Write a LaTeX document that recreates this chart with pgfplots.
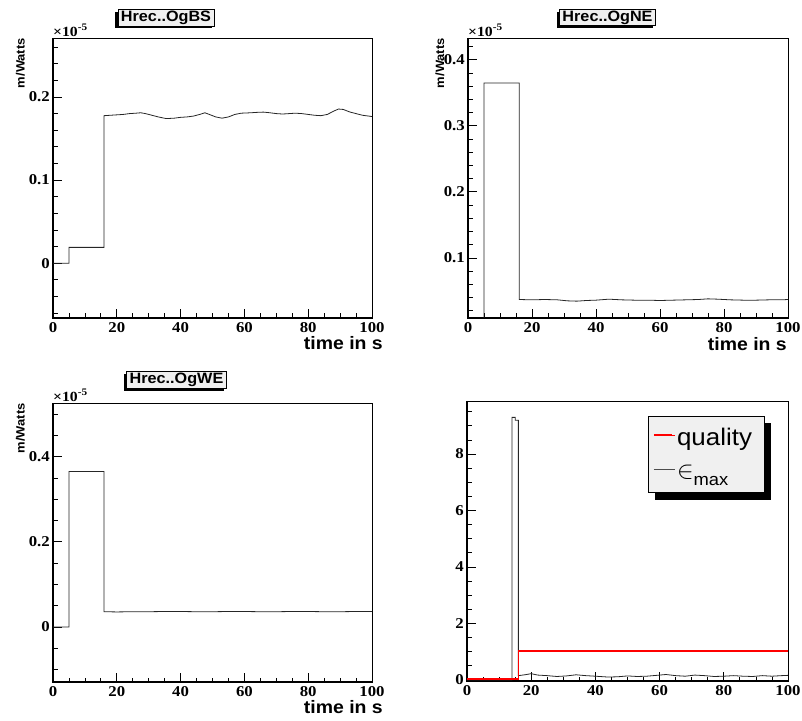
\documentclass[border=0pt]{standalone}
\usepackage{fontspec}
\setmainfont{Liberation Serif}[FakeStretch=1.12]
\setsansfont{Liberation Sans}[FakeStretch=1.08]
\usepackage{pgfplots}
\pgfplotsset{compat=1.18}
\pgfdeclarelayer{background}
\pgfsetlayers{background,main}

\definecolor{paneg}{RGB}{240,240,240}
\definecolor{rootred}{RGB}{255,0,0}
\newcommand\titlefont{\sffamily\bfseries\fontsize{15}{15}\selectfont}
\newcommand\tickfont{\rmfamily\bfseries\fontsize{15}{15}\selectfont}
\newcommand\labfont{\sffamily\bfseries\fontsize{18}{18}\selectfont}
\newcommand\ylabfont{\sffamily\bfseries\fontsize{12}{12}\selectfont}
\newcommand\expfont{\rmfamily\bfseries\fontsize{14}{14}\selectfont}
\newcommand\expo{×10\raisebox{5.5pt}{\fontsize{10}{10}\selectfont -5}}

\newcommand{\tbox}[3]{%
  \node[fill=black, inner xsep=3pt, inner ysep=1.2pt, text height=10.8pt, text depth=3.2pt, font=\titlefont] at (#1pt-2.5pt,#2pt-2.5pt) {#3};
  \node[fill=paneg, draw=black, line width=0.6pt, inner xsep=3pt, inner ysep=1.2pt, text height=10.8pt, text depth=3.2pt, font=\titlefont] at (#1pt,#2pt) {#3};
}

\pgfplotsset{
  rootaxis/.style={
    scale only axis,
    clip mode=individual,
    xmin=0, xmax=100,
    axis line style={line width=0.9pt},
    tick align=inside,
    xtick pos=left, ytick pos=left,
    major tick length=9pt, minor tick length=4.5pt,
    every tick/.style={line width=0.8pt, black},
    xtick={0,20,40,60,80,100}, xticklabels={0,20,40,60,80,100},
    minor xtick={5,10,15,25,30,35,45,50,55,65,70,75,85,90,95},
    xticklabel style={font=\tickfont, inner sep=0pt, yshift=-4pt},
    yticklabel style={font=\tickfont, inner sep=0pt, xshift=-3pt},
  },
  hist/.style={black!85, line width=0.8pt, mark=none},
}

\begin{document}
\begin{tikzpicture}[x=1pt,y=1pt]
\path[use as bounding box] (0,0) rectangle (802,720);

% ---------------- Panel 1 : Hrec..OgBS ----------------
\begin{axis}[rootaxis,
  at={(53pt,402pt)}, anchor=south west, width=319pt, height=280pt,
  ymin=-0.066, ymax=0.271,
  ytick={0,0.1,0.2}, yticklabels={0,0.1,0.2},
  minor ytick={-0.06,-0.04,-0.02,0.02,0.04,0.06,0.08,0.12,0.14,0.16,0.18,0.22,0.24,0.26},
]
\draw[line width=1.4pt, black] (rel axis cs:0,1) -- (rel axis cs:0,0) -- (rel axis cs:1,0);
\addplot[hist] coordinates {
(0,0) (5,0) (5,0.019) (16,0.019) (16,0.1775)
(18,0.178) (20,0.1785) (22,0.179) (24,0.180) (26,0.1805) (27.5,0.181) (29,0.180)
(31,0.178) (33,0.176) (35.5,0.174) (38,0.1745) (40,0.1755) (42,0.176) (44,0.177)
(46,0.179) (47.6,0.181) (49,0.179) (51,0.176) (53,0.1745) (55,0.176) (57,0.179)
(59,0.1805) (62,0.181) (64,0.1815) (66,0.1818) (68,0.181) (70,0.180) (72,0.1795)
(74,0.180) (76,0.1805) (78,0.180) (80,0.179) (82,0.178) (84,0.1775) (86,0.179)
(88,0.183) (89.5,0.1855) (91,0.185) (93,0.182) (95,0.180) (97,0.178) (100,0.1765)
};
\node[anchor=south west, inner sep=0pt, font=\expfont] at ([yshift=1.5pt]rel axis cs:0,1) {\expo};
\node[rotate=90, anchor=south east, inner sep=0pt, font=\ylabfont] at ([xshift=-28pt]rel axis cs:0,1) {m/Watts};
\node[anchor=north east, inner sep=0pt, font=\labfont] at ([xshift=11pt,yshift=-18pt]rel axis cs:1,0) {time in s};
\end{axis}

% ---------------- Panel 2 : Hrec..OgNE ----------------
\begin{axis}[rootaxis,
  at={(468pt,402pt)}, anchor=south west, width=320pt, height=280pt,
  ymin=0.009, ymax=0.433,
  ytick={0.1,0.2,0.3,0.4}, yticklabels={0.1,0.2,0.3,0.4},
  minor ytick={0.02,0.04,0.06,0.08,0.12,0.14,0.16,0.18,0.22,0.24,0.26,0.28,0.32,0.34,0.36,0.38,0.42},
]
\draw[line width=1.4pt, black] (rel axis cs:0,1) -- (rel axis cs:0,0) -- (rel axis cs:1,0);
\addplot[hist] coordinates {
(0,0) (5,0) (5,0.365) (16,0.365) (16,0.037)
(20,0.0365) (24,0.037) (28,0.0365) (31,0.035) (34,0.0345) (37,0.0355) (40,0.036)
(44,0.0375) (48,0.0365) (52,0.036) (56,0.036) (60,0.0355) (64,0.036) (68,0.0365)
(72,0.037) (75,0.038) (78,0.0375) (82,0.0365) (86,0.036) (90,0.036) (94,0.0365)
(98,0.0365) (100,0.037)
};
\node[anchor=south west, inner sep=0pt, font=\expfont] at ([yshift=1.5pt]rel axis cs:0,1) {\expo};
\node[rotate=90, anchor=south east, inner sep=0pt, font=\ylabfont] at ([xshift=-23.5pt]rel axis cs:0,1) {m/Watts};
\node[anchor=north east, inner sep=0pt, font=\labfont] at ([xshift=-1pt,yshift=-19pt]rel axis cs:1,0) {time in s};
\end{axis}

% ---------------- Panel 3 : Hrec..OgWE ----------------
\begin{axis}[rootaxis,
  at={(53pt,38pt)}, anchor=south west, width=319pt, height=279pt,
  ymin=-0.129, ymax=0.526,
  ytick={0,0.2,0.4}, yticklabels={0,0.2,0.4},
  minor ytick={-0.1,-0.05,0.05,0.1,0.15,0.25,0.3,0.35,0.45,0.5},
]
\draw[line width=1.4pt, black] (rel axis cs:0,1) -- (rel axis cs:0,0) -- (rel axis cs:1,0);
\addplot[hist] coordinates {
(0,0) (5,0) (5,0.365) (16,0.365) (16,0.036)
(20,0.0355) (25,0.036) (30,0.036) (35,0.0365) (40,0.0365) (45,0.036) (50,0.036)
(55,0.0365) (60,0.0365) (65,0.036) (70,0.036) (75,0.0365) (80,0.0365) (85,0.036)
(90,0.036) (95,0.0365) (100,0.0365)
};
\node[anchor=south west, inner sep=0pt, font=\expfont] at ([yshift=1.5pt]rel axis cs:0,1) {\expo};
\node[rotate=90, anchor=south east, inner sep=0pt, font=\ylabfont] at ([xshift=-28pt]rel axis cs:0,1) {m/Watts};
\node[anchor=north east, inner sep=0pt, font=\labfont] at ([xshift=11pt,yshift=-18pt]rel axis cs:1,0) {time in s};
\end{axis}

% ---------------- Panel 4 : quality / eps_max ----------------
\begin{axis}[rootaxis,
  at={(467pt,39pt)}, anchor=south west, width=321pt, height=280pt,
  ymin=-0.04, ymax=9.88,
  ytick={0,2,4,6,8}, yticklabels={0,2,4,6,8},
  minor ytick={0.5,1,1.5,2.5,3,3.5,4.5,5,5.5,6.5,7,7.5,8.5,9,9.5},
  legend cell align=left,
  legend style={at={(rel axis cs:0.564,0.946)}, anchor=north west, name=leg,
    fill=paneg, draw=black, line width=0.6pt,
    font=\sffamily\fontsize{24}{24}\selectfont,
    inner xsep=5pt, inner ysep=10pt, row sep=14pt},
  legend image code/.code={\draw[#1, line width=0.8pt] (0pt,3pt) -- (18pt,3pt); \path (0pt,3pt) -- (21pt,3pt);},
]
\draw[line width=1.4pt, black] (rel axis cs:0,1) -- (rel axis cs:0,0) -- (rel axis cs:1,0);
\addlegendimage{rootred}
\addlegendentry{quality\hspace*{5pt}}
\addlegendimage{black!70}
\addlegendentry{$\in$\raisebox{-7pt}{\fontsize{17}{17}\selectfont max}}
\addplot[hist] coordinates {
(0,0) (14,0) (14,9.3) (15,9.3) (15,9.2) (16,9.2) (16,0.15)
(18,0.18) (20,0.22) (22,0.17) (25,0.15) (28,0.12) (31,0.14) (34,0.18) (37,0.15)
(40,0.13) (44,0.10) (47,0.11) (50,0.14) (53,0.12) (56,0.13) (59,0.16) (62,0.19)
(65,0.15) (68,0.13) (71,0.17) (74,0.15) (77,0.12) (80,0.13) (83,0.15) (86,0.13)
(89,0.12) (92,0.15) (95,0.13) (98,0.15) (100,0.16)
};
\addplot[draw=rootred, line width=1.6pt, mark=none] coordinates {
(0,0.04) (16,0.04) (16,1.02)
};
\addplot[draw=rootred, line width=1.6pt, mark=none] coordinates {
(16,1.02) (58,1.02) (100,1.02)
};
\end{axis}
\begin{pgfonlayer}{background}
\fill[black] ([shift={(7pt,-7pt)}]leg.south west) rectangle ([shift={(7pt,-7pt)}]leg.north east);
\end{pgfonlayer}

% ---------------- Title boxes ----------------
\tbox{166}{702.25}{Hrec..OgBS}
\tbox{607.5}{702.5}{Hrec..OgNE}
\tbox{176.5}{340}{Hrec..OgWE}
\end{tikzpicture}
\end{document}
